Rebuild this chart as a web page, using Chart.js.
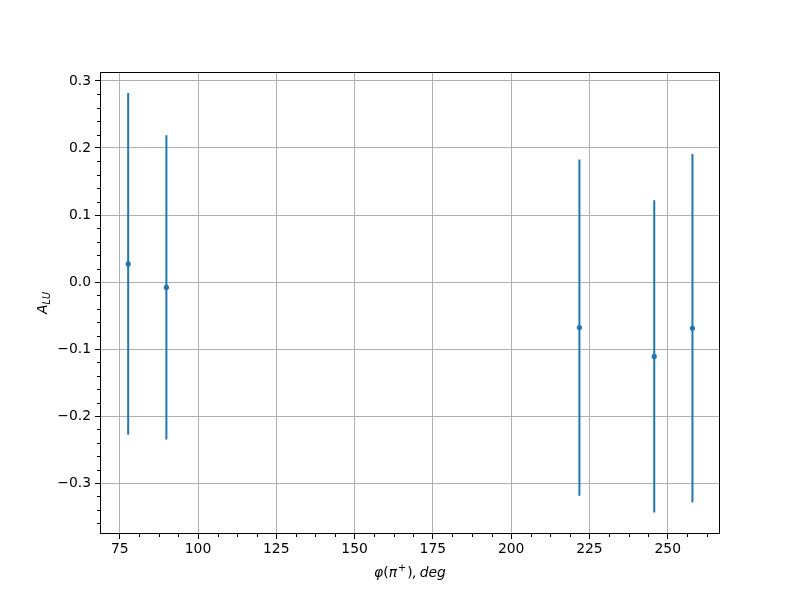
<!DOCTYPE html>
<html>
<head>
<meta charset="utf-8">
<script src="https://cdn.jsdelivr.net/npm/chart.js@4.4.1/dist/chart.umd.min.js"></script>
<style>
  html, body { margin: 0; padding: 0; background: #ffffff; }
  #wrap { width: 800px; height: 600px; }
</style>
</head>
<body>
<div id="wrap"><canvas id="c" width="800" height="600"></canvas></div>
<script>
// ---- data ----
const phi = [77.7, 89.9, 221.8, 245.7, 257.9];      // φ(π+), deg
const alu = [0.027, -0.008, -0.068, -0.111, -0.069]; // A_LU
const err = [0.255, 0.227, 0.251, 0.233, 0.260];     // symmetric error

const xTicks = [75, 100, 125, 150, 175, 200, 225, 250];
const xTickLabels = ['75', '100', '125', '150', '175', '200', '225', '250'];
const yTicks = [-0.3, -0.2, -0.1, 0.0, 0.1, 0.2, 0.3];
const yTickLabels = ['\u22120.3', '\u22120.2', '\u22120.1', '0.0', '0.1', '0.2', '0.3'];
const xMinorTicks = [81.25, 87.5, 93.75, 106.25, 112.5, 118.75, 131.25, 137.5, 143.75, 156.25, 162.5, 168.75,
  181.25, 187.5, 193.75, 206.25, 212.5, 218.75, 231.25, 237.5, 243.75, 256.25, 262.5];
const yMinorTicks = [-0.36, -0.34, -0.32, -0.28, -0.26, -0.24, -0.22, -0.18, -0.16, -0.14, -0.12,
  -0.08, -0.06, -0.04, -0.02, 0.02, 0.04, 0.06, 0.08, 0.12, 0.14, 0.16, 0.18, 0.22, 0.24, 0.26, 0.28];

const BLUE = '#1f77b4';
const FONT = "'DejaVu Sans', sans-serif";

const datasets = [];
phi.forEach((x, i) => {
  datasets.push({
    type: 'line',
    data: [{ x: x, y: alu[i] - err[i] }, { x: x, y: alu[i] + err[i] }],
    borderColor: BLUE,
    borderWidth: 2,
    pointRadius: 0,
    borderCapStyle: 'butt',
    fill: false,
    order: 2
  });
});
datasets.push({
  type: 'scatter',
  data: phi.map((x, i) => ({ x: x, y: alu[i] })),
  backgroundColor: BLUE,
  borderColor: BLUE,
  pointRadius: 2.6,
  borderWidth: 0,
  order: 1
});

const framePlugin = {
  id: 'frame',
  afterDraw(chart) {
    const ctx = chart.ctx;
    const a = chart.chartArea;
    const xs = chart.scales.x, ys = chart.scales.y;
    ctx.save();
    // spines
    ctx.strokeStyle = '#000';
    ctx.lineWidth = 1;
    ctx.strokeRect(Math.round(a.left) + 0.5, Math.round(a.top) + 0.5,
      Math.round(a.right - a.left) - 1, Math.round(a.bottom - a.top) - 1);
    // minor ticks
    ctx.beginPath();
    xMinorTicks.forEach(v => {
      const px = Math.round(xs.getPixelForValue(v)) + 0.5;
      ctx.moveTo(px, a.bottom);
      ctx.lineTo(px, a.bottom + 3);
    });
    yMinorTicks.forEach(v => {
      const py = Math.round(ys.getPixelForValue(v)) + 0.5;
      ctx.moveTo(a.left, py);
      ctx.lineTo(a.left - 3, py);
    });
    ctx.stroke();
    // y title: A_LU
    ctx.fillStyle = '#000';
    ctx.translate(42, (a.top + a.bottom) / 2);
    ctx.rotate(-Math.PI / 2);
    ctx.font = 'italic 13.9px ' + FONT;
    const wA = ctx.measureText('A').width;
    ctx.font = 'italic 9.7px ' + FONT;
    const wS = ctx.measureText('LU').width;
    const tot = wA + wS;
    ctx.textBaseline = 'alphabetic';
    ctx.textAlign = 'left';
    ctx.font = 'italic 13.9px ' + FONT;
    ctx.fillText('A', -tot / 2, 5);
    ctx.font = 'italic 9.7px ' + FONT;
    ctx.fillText('LU', -tot / 2 + wA, 8);
    ctx.restore();

    // x title
    ctx.save();
    ctx.fillStyle = '#000';
    ctx.textBaseline = 'middle';
    ctx.textAlign = 'left';
    const parts = [
      ['\u03c6', 'italic 13.9px ' + FONT, 0],
      ['(', '13.9px ' + FONT, 0],
      ['\u03c0', 'italic 13.9px ' + FONT, 0],
      ['+', '9.7px ' + FONT, -5],
      [')', '13.9px ' + FONT, 0],
      [',\u2009', 'italic 13.9px ' + FONT, 0],
      ['deg', 'italic 13.9px ' + FONT, 0]
    ];
    let w = 0;
    parts.forEach(p => { ctx.font = p[1]; w += ctx.measureText(p[0]).width + (p[0] === '+' ? 2 : 0); });
    let x0 = (a.left + a.right) / 2 - w / 2;
    parts.forEach(p => {
      ctx.font = p[1];
      if (p[0] === '+') x0 += 1;
      ctx.fillText(p[0], x0, 573 + p[2]);
      x0 += ctx.measureText(p[0]).width + (p[0] === '+' ? 1 : 0);
    });
    ctx.restore();
  }
};

new Chart(document.getElementById('c'), {
  data: { datasets: datasets },
  options: {
    responsive: false,
    animation: false,
    devicePixelRatio: 1,
    layout: { padding: { left: 0, top: 72, right: 80, bottom: 0 } },
    plugins: { legend: { display: false }, tooltip: { enabled: false } },
    scales: {
      x: {
        type: 'linear',
        min: 68.7,
        max: 266.7,
        afterBuildTicks: s => { s.ticks = xTicks.map(v => ({ value: v })); },
        afterFit: s => { s.height = 66; },
        ticks: {
          autoSkip: false,
          maxRotation: 0,
          color: '#000',
          padding: 2,
          font: { family: FONT, size: 13.9 },
          callback: (v, i) => xTickLabels[i]
        },
        grid: { color: '#b0b0b0', lineWidth: 1, tickColor: '#000', tickLength: 5, drawTicks: true },
        border: { display: false }
      },
      y: {
        type: 'linear',
        min: -0.376,
        max: 0.3134,
        afterBuildTicks: s => { s.ticks = yTicks.map(v => ({ value: v })); },
        afterFit: s => { s.width = 100; },
        ticks: {
          autoSkip: false,
          color: '#000',
          padding: 4,
          font: { family: FONT, size: 13.9 },
          callback: (v, i) => yTickLabels[i]
        },
        grid: { color: '#b0b0b0', lineWidth: 1, tickColor: '#000', tickLength: 5, drawTicks: true },
        border: { display: false }
      }
    }
  },
  plugins: [framePlugin]
});
</script>
</body>
</html>
